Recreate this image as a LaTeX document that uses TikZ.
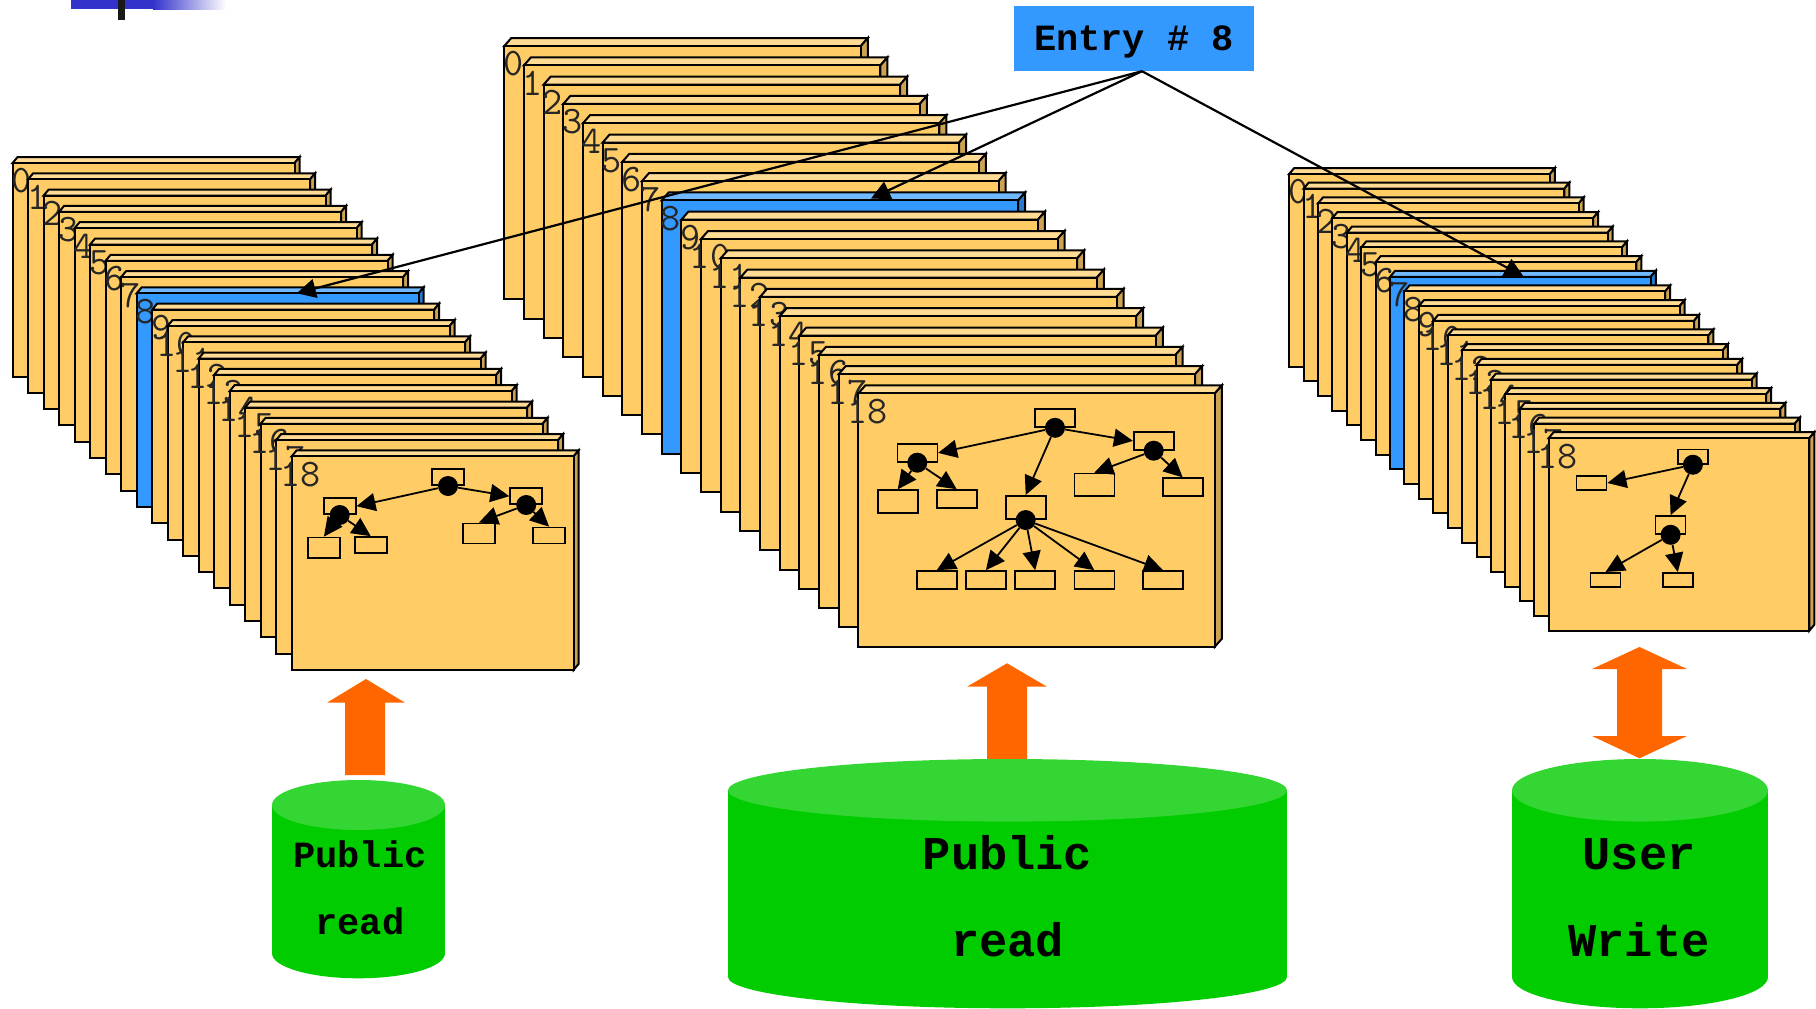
\documentclass[tikz,border=0pt]{standalone}
\usepackage{fontspec}
\newfontfamily\codefont{Liberation Mono}
\usetikzlibrary{arrows.meta}

\definecolor{cardyel}{RGB}{255,204,102}
\definecolor{cardblue}{RGB}{51,153,255}
\definecolor{cylgreen}{RGB}{0,204,0}
\definecolor{cyltop}{RGB}{51,214,51}
\definecolor{pushorange}{RGB}{255,102,0}
\definecolor{barblue}{RGB}{51,51,204}

\tikzset{
  cardedge/.style={draw=black, line width=2pt},
  cardnum/.style={anchor=north, inner sep=0pt, text=black!85, font=\ttfamily\fontsize{39}{39}\selectfont},
  box/.style 2 args={draw, fill=cardyel, line width=1.6pt, inner sep=0pt, minimum width=#1, minimum height=#2},
  dot/.style={circle, fill=black, inner sep=0pt, minimum size=20pt},
  branch/.style={line width=1.8pt, -{Triangle[length=19pt,width=18pt]}},
  pointer/.style={line width=2.2pt, -{Triangle[length=19pt,width=19pt]}},
  entrybox/.style={fill=cardblue, inner sep=0pt, minimum width=240pt, minimum height=65pt,
    text height=24pt, text depth=0pt, font=\codefont\bfseries\fontsize{37}{37}\selectfont},
  dbtext/.style={anchor=base, inner sep=0pt, font=\codefont\bfseries\fontsize{#1}{#1}\selectfont},
}

\begin{document}
\begin{tikzpicture}[x=1pt, y=-1pt]
  \useasboundingbox (0,0) rectangle (1816,1009);

  % title bar remnant
  \fill[barblue] (71,0) rectangle (153,9.3);
  \shade[left color=barblue, right color=white] (153,0) rectangle (226,9.3);
  \fill[black!90] (118,0) rectangle (125,20);

  % three stacks of cards 0..18
  \foreach \ox/\oy/\sx/\sy/\cw/\ch/\ddx/\ddy/\hit/\nm in
      {12.6/163/15.5/16.3/282/213.5/5/6/8/L,
       504.3/46/19.67/19.3/356.5/253.3/7/8/8/M,
       1289.2/174/14.41/14.68/260.7/192.5/5/6/7/R} {
    \foreach \i in {0,...,18} {
      \pgfmathsetmacro\cx{\ox+\sx*\i}
      \pgfmathsetmacro\cy{\oy+\sy*\i}
      \ifnum\i=\hit\relax \def\cc{cardblue}\else \def\cc{cardyel}\fi
      \filldraw[cardedge, fill=\cc!70!white] (\cx,\cy) -- ++(\ddx,-\ddy) -- ++(\cw,0) -- ++(-\ddx,\ddy) -- cycle;
      \filldraw[cardedge, fill=\cc!80!black] (\cx+\cw,\cy) -- ++(\ddx,-\ddy) -- ++(0,\ch) -- ++(-\ddx,\ddy) -- cycle;
      \filldraw[cardedge, fill=\cc] (\cx,\cy) rectangle ++(\cw,\ch);
      \node[cardnum] (num\nm\i) at (\cx+9,\cy+5.5) {\i};
    }
  }

  % tree on left front card
  \node[box={32pt}{16pt}] (lroot) at (448,477.2) {};
  \node[box={32pt}{16pt}] (ll) at (339.7,506.2) {};
  \node[box={32pt}{16pt}] (lr) at (526.2,496.2) {};
  \node[box={32pt}{20.5pt}] (lll) at (323.9,547.7) {};
  \node[box={32pt}{16pt}] (llr) at (370.8,545) {};
  \node[box={32pt}{20pt}] (lrl) at (478.9,533.3) {};
  \node[box={32pt}{16pt}] (lrr) at (549.1,535.5) {};
  \foreach \n in {lroot,ll,lr} \node[dot] (d\n) at (\n.south) {};
  \draw[branch] (dlroot) -- (ll.east);
  \draw[branch] (dlroot) -- (lr.west);
  \draw[branch] (dll) -- (lll.north);
  \draw[branch] (dll) -- (llr.north);
  \draw[branch] (dlr) -- (lrl.north);
  \draw[branch] (dlr) -- (lrr.north);

  % tree on middle front card
  \node[box={40pt}{18pt}] (mroot) at (1055,418) {};
  \node[box={40pt}{18pt}] (ml) at (917.3,452.9) {};
  \node[box={40pt}{23.5pt}] (mm) at (1025.7,507.5) {};
  \node[box={40pt}{18pt}] (mr) at (1153.7,440.9) {};
  \node[box={40pt}{23pt}] (mll) at (897.7,501.7) {};
  \node[box={40pt}{18pt}] (mlr) at (956.7,499) {};
  \node[box={40pt}{22.5pt}] (mrl) at (1094.3,484.7) {};
  \node[box={40pt}{18pt}] (mrr) at (1182.7,487.2) {};
  \foreach \k/\x in {1/936.7,2/985.9,3/1035.2,4/1094.3,5/1163}
    \node[box={40pt}{18pt}] (mb\k) at (\x,580) {};
  \foreach \n in {mroot,ml,mm,mr} \node[dot] (d\n) at (\n.south) {};
  \draw[branch] (dmroot) -- (ml.east);
  \draw[branch] (dmroot) -- (mr.west);
  \draw[branch] (dmroot) -- (mm.north);
  \draw[branch] (dml) -- (mll.north);
  \draw[branch] (dml) -- (mlr.north);
  \draw[branch] (dmr) -- (mrl.north);
  \draw[branch] (dmr) -- (mrr.north);
  \foreach \k in {1,...,5} \draw[branch] (dmm) -- (mb\k.north);

  % tree on right front card
  \node[box={30pt}{14.5pt}] (rroot) at (1692.9,456.7) {};
  \node[box={30pt}{14pt}] (rl) at (1591.6,483) {};
  \node[box={30pt}{18pt}] (rm) at (1670.6,525) {};
  \node[box={30pt}{14.5pt}] (rbl) at (1605.5,580) {};
  \node[box={30pt}{14.5pt}] (rbr) at (1677.8,580) {};
  \foreach \n in {rroot,rm} \node[dot] (d\n) at (\n.south) {};
  \draw[branch] (drroot) -- (rl.east);
  \draw[branch] (drroot) -- (rm.north);
  \draw[branch] (drm) -- (rbl.north);
  \draw[branch] (drm) -- (rbr.north);

  % entry pointers
  \node[entrybox] (entry) at (1134,38.5) {Entry \# 8};
  \coordinate (hub) at ([xshift=8pt]entry.south);
  \coordinate (hitL) at (296.7,293.3);
  \coordinate (hitM) at (871,198.5);
  \coordinate (hitR) at (1523.5,276.5);
  \draw[pointer] (hub) -- (hitL);
  \draw[pointer] (hub) -- (hitM);
  \draw[pointer] (hub) -- (hitR);

  % orange block arrows
  \fill[pushorange] (345,775) -- (345,702.7) -- (327,702.7) -- (366,679) -- (405,702.7) -- (385,702.7) -- (385,775) -- cycle;
  \fill[pushorange] (987,760) -- (987,686.7) -- (967,686.7) -- (1007,663.3) -- (1047,686.7) -- (1027,686.7) -- (1027,760) -- cycle;
  \fill[pushorange] (1617,669) -- (1592,669) -- (1639.5,647) -- (1687,669) -- (1662,669) -- (1662,736)
    -- (1687,736) -- (1639.5,758.3) -- (1592,736) -- (1617,736) -- cycle;

  % databases
  \foreach \cx/\rx/\ry/\ytop/\ybot in {358.5/86.5/25/805/953.3, 1007.5/279.5/31.3/790.3/977, 1640/128/31.3/790.3/977} {
    \fill[cylgreen] (\cx-\rx,\ytop) rectangle (\cx+\rx,\ybot);
    \fill[cylgreen] (\cx,\ybot) ellipse [x radius=\rx pt, y radius=\ry pt];
    \fill[cyltop] (\cx,\ytop) ellipse [x radius=\rx pt, y radius=\ry pt];
  }
  \node[dbtext=37] (pubL) at (360,867.5) {Public};
  \node[dbtext=37] (readL) at (360,934) {read};
  \node[dbtext=47] (pubM) at (1007.5,869) {Public};
  \node[dbtext=47] (readM) at (1007.5,956) {read};
  \node[dbtext=47] (userR) at (1639,869) {User};
  \node[dbtext=47] (writeR) at (1639,956) {Write};
\end{tikzpicture}
\end{document}
